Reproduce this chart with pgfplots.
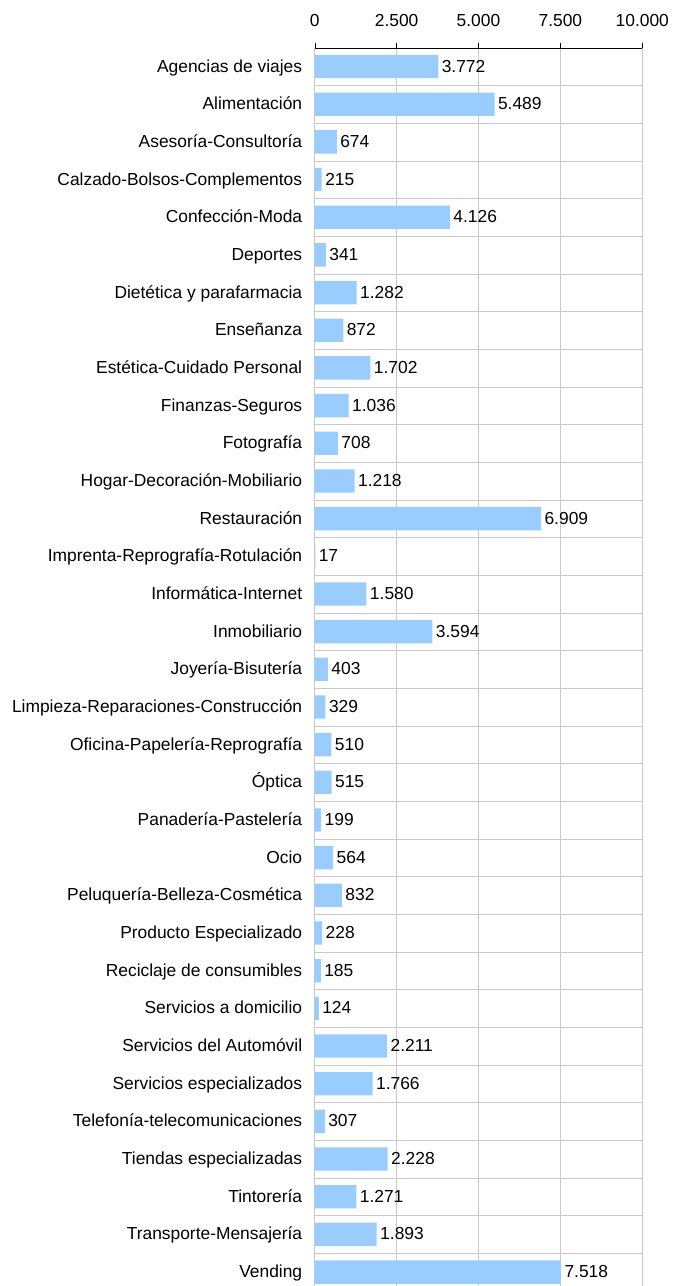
\documentclass[border=0pt]{standalone}
\usepackage{pgfplots}
\pgfplotsset{compat=1.18}
\usepackage{fontspec}
\setmainfont{Liberation Sans}
\definecolor{barblue}{RGB}{153,204,255}
\definecolor{gridgray}{RGB}{200,200,200}
\begin{document}
\begin{tikzpicture}[font=\fontsize{17.4}{20}\selectfont]
\begin{axis}[
    scale only axis,
    width=327.6pt, height=1238.3pt,
    xmin=0, xmax=10000,
    ymin=0.5, ymax=33.37,
    y dir=reverse,
    axis x line*=top,
    axis y line*=left,
    x axis line style={-, black},
    y axis line style={-, draw=gridgray},
    xtick={0,2500,5000,7500,10000},
    scaled x ticks=false,
    xtick align=outside,
    major tick length=5pt,
    xtick style={black},
    xticklabel style={yshift=12pt},
    ytick={1,...,33},
    ytick style={draw=none},
    yticklabel style={xshift=-4pt, text height=11pt, text depth=0pt},
    minor ytick={1.5,2.5,...,32.5},
    minor tick length=0pt,
    xmajorgrids=true,
    yminorgrids=true,
    major grid style={gridgray},
    minor grid style={gridgray},
    /pgf/number format/.cd, fixed, 1000 sep={.}, assume math mode=true, /pgfplots/.cd,
    yticklabels={Agencias de viajes, Alimentación, Asesoría-Consultoría,
        Calzado-Bolsos-Complementos, Confección-Moda, Deportes,
        Dietética y parafarmacia, Enseñanza, Estética-Cuidado Personal,
        Finanzas-Seguros, Fotografía, Hogar-Decoración-Mobiliario,
        Restauración, Imprenta-Reprografía-Rotulación, Informática-Internet,
        Inmobiliario, Joyería-Bisutería, Limpieza-Reparaciones-Construcción,
        Oficina-Papelería-Reprografía, Óptica, Panadería-Pastelería, Ocio,
        Peluquería-Belleza-Cosmética, Producto Especializado,
        Reciclaje de consumibles, Servicios a domicilio,
        Servicios del Automóvil, Servicios especializados,
        Telefonía-telecomunicaciones, Tiendas especializadas, Tintorería,
        Transporte-Mensajería, Vending},
    xbar,
    bar width=0.62,
    nodes near coords,
    nodes near coords style={anchor=west, black, text height=11pt, text depth=0pt},
]
% values per sector
\addplot[fill=barblue, draw=none] coordinates {
    (3772,1) (5489,2) (674,3) (215,4) (4126,5) (341,6) (1282,7) (872,8)
    (1702,9) (1036,10) (708,11) (1218,12) (6909,13) (17,14) (1580,15)
    (3594,16) (403,17) (329,18) (510,19) (515,20) (199,21) (564,22)
    (832,23) (228,24) (185,25) (124,26) (2211,27) (1766,28) (307,29)
    (2228,30) (1271,31) (1893,32) (7518,33)
};
\end{axis}
\pgfresetboundingbox
\path ([shift={(-314.7pt,47.7pt)}]current axis.north west)
    rectangle ([shift={(30.7pt,0pt)}]current axis.south east);
\end{tikzpicture}
\end{document}
